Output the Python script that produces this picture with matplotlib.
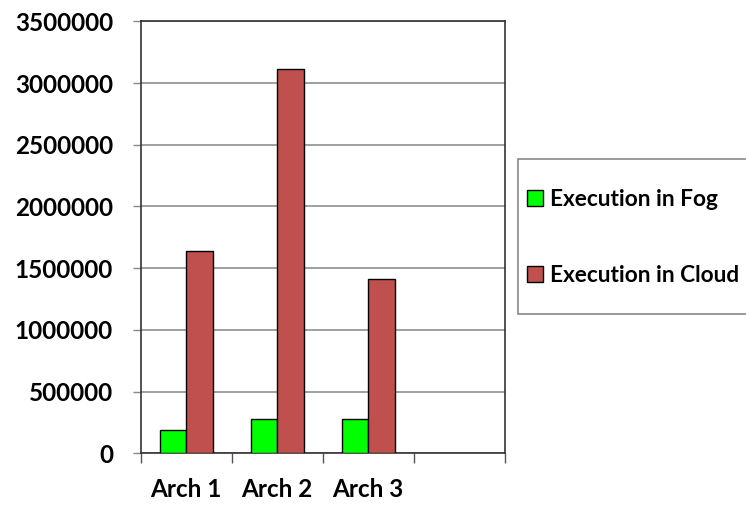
import numpy as np
import matplotlib.pyplot as plt
from matplotlib.patches import Rectangle
from matplotlib.ticker import FuncFormatter

plt.rcParams['font.family'] = ['Lato', 'DejaVu Sans']
plt.rcParams['font.weight'] = 'bold'

# categories (4th slot is left empty in the original)
categories = ["Arch 1", "Arch 2", "Arch 3", ""]
fog = [190000, 280000, 280000]
cloud = [1640000, 3115000, 1410000]

fig = plt.figure(figsize=(7.46, 5.05), dpi=100)
ax = fig.add_axes([0.1886, 0.1024, 0.488, 0.8554])

x = np.arange(len(fog))
w = 0.293
ax.bar(x - w/2, fog, w, color="#00ff00", edgecolor="black", linewidth=1.0,
       label="Execution in Fog", zorder=3)
ax.bar(x + w/2, cloud, w, color="#c0504d", edgecolor="black", linewidth=1.0,
       label="Execution in Cloud", zorder=3)

ax.set_xlim(-0.5, len(categories) - 0.5)
ax.set_ylim(0, 3500000)
ax.set_yticks(np.arange(0, 3500001, 500000))
ax.yaxis.set_major_formatter(FuncFormatter(lambda v, p: "%d" % v))
ax.yaxis.grid(True, color="#8f8f8f", linewidth=1.2, zorder=0)

ax.set_xticks(np.arange(len(categories)))
ax.set_xticklabels(categories)
ax.set_xticks(np.arange(-0.5, len(categories)), minor=True)
ax.tick_params(axis="x", which="major", length=0, pad=18, labelsize=17.5)
ax.tick_params(axis="x", which="minor", length=7, width=1.0, color="#555555")
ax.tick_params(axis="y", length=6, width=1.0, color="#888888", pad=14, labelsize=17.5)

for s in ax.spines.values():
    s.set_color("#333333")
    s.set_linewidth(1.2)

# legend box runs off the right edge like the original
fig.patches.append(Rectangle((0.694, 0.378), 0.4, 0.307, transform=fig.transFigure,
                             facecolor="white", edgecolor="#888888", linewidth=1.2))
fig.legend(loc="center left", bbox_to_anchor=(0.706, 0.530), frameon=False,
           fontsize=16.3, labelspacing=2.45, handlelength=0.72, handleheight=0.72,
           handletextpad=0.3, borderpad=0, borderaxespad=0)

fig.savefig("out.png", dpi=100)
